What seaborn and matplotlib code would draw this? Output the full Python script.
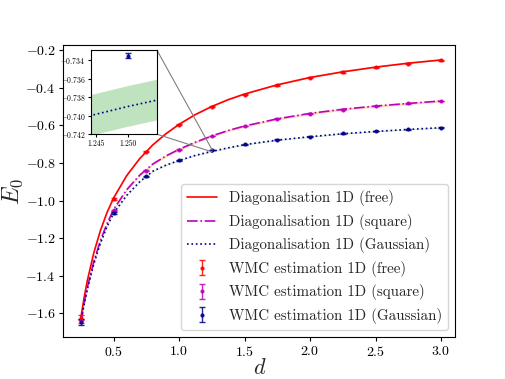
import matplotlib
matplotlib.use("Agg")
import matplotlib.pyplot as plt
import seaborn as sns
from mpl_toolkits.axes_grid1.inset_locator import mark_inset

# exact diagonalisation curves
d_line = [0.25, 0.275, 0.3, 0.35, 0.4, 0.45, 0.5, 0.6, 0.7, 0.8, 0.9, 1.0,
          1.125, 1.25, 1.375, 1.5, 1.75, 2.0, 2.25, 2.5, 2.75, 3.0]
E_free = [-1.625, -1.517, -1.425, -1.276, -1.159, -1.064, -0.987, -0.868, -0.777, -0.704, -0.645, -0.595,
          -0.543, -0.500, -0.464, -0.434, -0.385, -0.346, -0.316, -0.291, -0.270, -0.253]
E_square = [-1.645, -1.546, -1.461, -1.322, -1.212, -1.123, -1.048, -0.943, -0.865, -0.806, -0.763, -0.728,
            -0.690, -0.657, -0.628, -0.604, -0.566, -0.537, -0.515, -0.498, -0.484, -0.471]
E_gauss = [-1.650, -1.554, -1.471, -1.335, -1.227, -1.139, -1.068, -0.973, -0.900, -0.844, -0.812, -0.787,
           -0.760, -0.739, -0.720, -0.703, -0.679, -0.661, -0.645, -0.633, -0.622, -0.613]
band_free = 0.002
band_square = 0.006
band_gauss = 0.0022

# WMC estimates
d_wmc = [0.25, 0.5, 0.75, 1.0, 1.25, 1.5, 1.75, 2.0, 2.25, 2.5, 2.75, 3.0]
wmc_free = [-1.622, -0.994, -0.740, -0.597, -0.502, -0.437, -0.388, -0.347, -0.317, -0.291, -0.272, -0.254]
wmc_square = [-1.640, -1.052, -0.842, -0.729, -0.657, -0.604, -0.565, -0.538, -0.517, -0.498, -0.484, -0.471]
wmc_gauss = [-1.645, -1.066, -0.871, -0.787, -0.7335, -0.702, -0.677, -0.661, -0.643, -0.630, -0.622, -0.613]
err_free = [0.012, 0.005, 0.003, 0.003, 0.003, 0.003, 0.003, 0.003, 0.003, 0.003, 0.003, 0.003]
err_square = [0.012, 0.004, 0.003, 0.002, 0.002, 0.002, 0.002, 0.002, 0.002, 0.002, 0.002, 0.002]
err_gauss = [0.015, 0.005, 0.003, 0.002, 0.0003, 0.002, 0.002, 0.002, 0.002, 0.002, 0.002, 0.002]

sns.set_style("ticks", {"axes.edgecolor": "black", "xtick.color": "black", "ytick.color": "black"})
plt.rcParams["font.family"] = ["cmr10", "DejaVu Serif"]
plt.rcParams["mathtext.fontset"] = "cm"
plt.rcParams["axes.formatter.use_mathtext"] = True
plt.rcParams["axes.unicode_minus"] = True
plt.rcParams["xtick.major.size"] = 3
plt.rcParams["ytick.major.size"] = 3
plt.rcParams["axes.linewidth"] = 0.8

fig = plt.figure(figsize=(5.06, 3.79), dpi=100)
ax = fig.add_subplot(111)

curves = [
    (E_free, band_free, "red", "-", "tab:red", "Diagonalisation 1D (free)"),
    (E_square, band_square, "m", "-.", "tab:orange", "Diagonalisation 1D (square)"),
    (E_gauss, band_gauss, "darkblue", ":", "tab:green", "Diagonalisation 1D (Gaussian)"),
]
points = [
    (wmc_free, err_free, "red", "WMC estimation 1D (free)"),
    (wmc_square, err_square, "m", "WMC estimation 1D (square)"),
    (wmc_gauss, err_gauss, "darkblue", "WMC estimation 1D (Gaussian)"),
]


def draw(a, lw=1.2):
    for E, band, col, ls, bcol, lab in curves:
        lo = [e - band for e in E]
        hi = [e + band for e in E]
        a.fill_between(d_line, lo, hi, color=bcol, alpha=0.3, lw=0)
        sns.lineplot(x=d_line, y=E, ax=a, color=col, linestyle=ls, lw=lw, label=lab)
    for E, err, col, lab in points:
        a.errorbar(d_wmc, E, yerr=err, fmt=".", color=col, ms=4, capsize=2.2,
                   elinewidth=1, alpha=0.85, label=lab)


draw(ax)
ax.set_xlim(0.116, 3.11)
ax.set_ylim(-1.727, -0.176)
ax.set_xlabel("$d$", fontsize=16, labelpad=-1)
ax.set_ylabel("$E_0$", fontsize=17, labelpad=0)
ax.tick_params(labelsize=10, pad=2.5)
ax.legend(loc="lower right", fontsize=10.8, framealpha=0.8, borderaxespad=0.5)

axins = fig.add_axes([0.180, 0.646, 0.130, 0.222])
draw(axins)
axins.get_legend().remove()
axins.set_xlim(1.2442, 1.2545)
axins.set_ylim(-0.742, -0.7329)
axins.set_xticks([1.245, 1.250])
axins.set_yticks([-0.734, -0.736, -0.738, -0.740, -0.742])
axins.xaxis.set_major_formatter(matplotlib.ticker.FormatStrFormatter("%.3f"))
axins.yaxis.set_major_formatter(matplotlib.ticker.FormatStrFormatter("$%.3f$"))
axins.tick_params(labelsize=5.5, length=2, pad=2)
axins.set_xlabel("")
axins.set_ylabel("")
mark_inset(ax, axins, loc1=1, loc2=4, fc="none", ec="0.5", lw=0.8)

fig.savefig("out.png", dpi=100)
